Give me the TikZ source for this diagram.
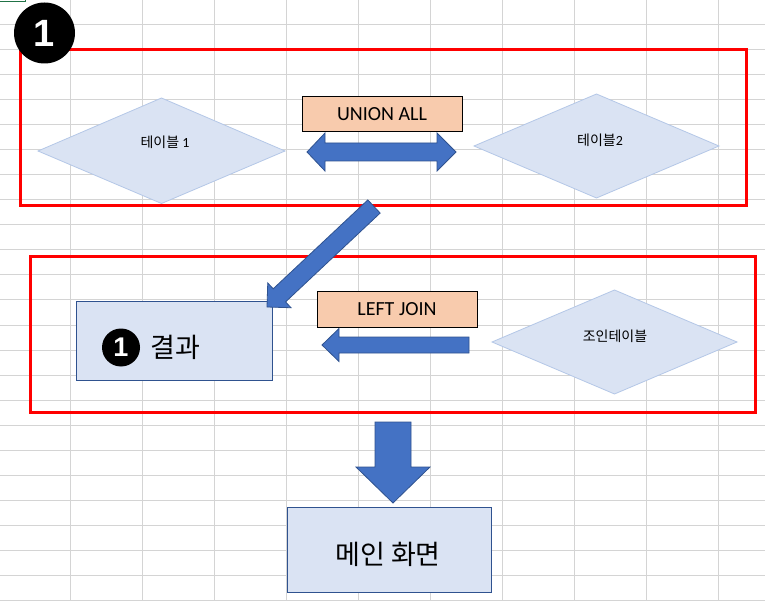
\documentclass[tikz,border=0pt]{standalone}
\usepackage{fontspec}
\setmainfont{Carlito}
\newfontfamily\kr{Noto Sans CJK KR}
\newfontfamily\numfont{Liberation Sans}
\definecolor{gridc}{HTML}{D4D4D4}
\definecolor{redc}{HTML}{FF0000}
\definecolor{arrowfill}{HTML}{4472C4}
\definecolor{arrowline}{HTML}{2F528F}
\definecolor{boxfill}{HTML}{DAE3F3}
\definecolor{diamline}{HTML}{B4C7E7}
\definecolor{orangefill}{HTML}{F8CBAD}
\definecolor{xlgreen}{HTML}{217346}
\tikzset{
  gridline/.style={draw=gridc, line width=1pt},
  redframe/.style={draw=redc, line width=3pt},
  blockarrow/.style={fill=arrowfill, draw=arrowline, line width=0.8pt, line join=miter},
  diamshape/.style={fill=boxfill, draw=diamline, line width=0.8pt},
  bluebox/.style={rectangle, fill=boxfill, draw=arrowline, line width=1pt, inner sep=0pt},
  orangebox/.style={rectangle, fill=orangefill, draw=black, line width=1pt, inner sep=0pt,
    minimum width=160pt, minimum height=35pt, font=\fontsize{20}{24}\selectfont},
  smalltxt/.style={inner sep=0pt, font=\kr\fontsize{14}{16}\selectfont},
  bigtxt/.style={inner sep=0pt, font=\kr\fontsize{27}{30}\selectfont},
  numcircle/.style={circle, fill=black, inner sep=0pt, text=white},
}
\begin{document}
\begin{tikzpicture}[x=1pt,y=-1pt]
\useasboundingbox (0,0) rectangle (765,601);
\fill[white] (0,0) rectangle (765,601);
% spreadsheet grid
\foreach \y in {0,25,...,600} \draw[gridline] (0,\y) -- (765,\y);
\foreach \x in {70.5,142.5,214.5,286.5,358.5,430.5,502.5,574.5,646.5,718.5} \draw[gridline] (\x,0) -- (\x,601);
\draw[draw=xlgreen, line width=1pt] (-2,-2) rectangle (25,2);
% red frames
\draw[redframe] (20,50) rectangle (746,206);
\draw[redframe] (30,257) rectangle (755,412);
% big number circle
\node[numcircle, minimum size=61pt, font=\numfont\bfseries\fontsize{38}{40}\selectfont] (num1) at (44.5,33) {1};
% diamonds
\draw[diamshape] (38,151) -- (161.5,98) -- (285,151) -- (161.5,203.5) -- cycle;
\node[smalltxt] (t1) at (165,142) {테이블 {\rmfamily 1}};
\draw[diamshape] (474,146) -- (596.5,94) -- (719,146) -- (596.5,198) -- cycle;
\node[smalltxt] (t2) at (600,140) {테이블{\rmfamily 2}};
\draw[diamshape] (492,342) -- (614.5,290) -- (737,342) -- (614.5,394) -- cycle;
\node[smalltxt] (t3) at (615,336) {조인테이블};
% label boxes
\node[orangebox] (union) at (382,114.5) {UNION ALL};
\node[orangebox] (ljoin) at (397,309.5) {LEFT JOIN};
% double arrow
\draw[blockarrow] (307,152) -- (325,133) -- (325,143) -- (437,143) -- (437,133) -- (456,152)
  -- (437,171) -- (437,161) -- (325,161) -- (325,171) -- cycle;
% result box
\node[bluebox, minimum width=196pt, minimum height=78pt] (res) at (174,341) {};
\node[numcircle, minimum size=38pt, font=\numfont\bfseries\fontsize{27}{29}\selectfont] (num2) at (121,347.5) {1};
\node[bigtxt] (restxt) at (175,347) {결과};
% diagonal arrow
\draw[blockarrow] (267,307) -- (291.04,307.74) -- (285.56,301.91) -- (380.17,213.06)
  -- (367.83,199.94) -- (273.22,288.79) -- (267.74,282.96) -- cycle;
% left arrow
\draw[blockarrow] (322,345) -- (339,328.5) -- (339,337) -- (469,337) -- (469,353)
  -- (339,353) -- (339,361.5) -- cycle;
% down arrow
\draw[blockarrow] (375,422) -- (411,422) -- (411,467) -- (430,467) -- (393,503)
  -- (356,467) -- (375,467) -- cycle;
% main screen box
\node[bluebox, minimum width=204pt, minimum height=85pt] (main) at (389,549.5) {};
\node[bigtxt] (maintxt) at (388,554) {메인 화면};
\end{tikzpicture}
\end{document}
